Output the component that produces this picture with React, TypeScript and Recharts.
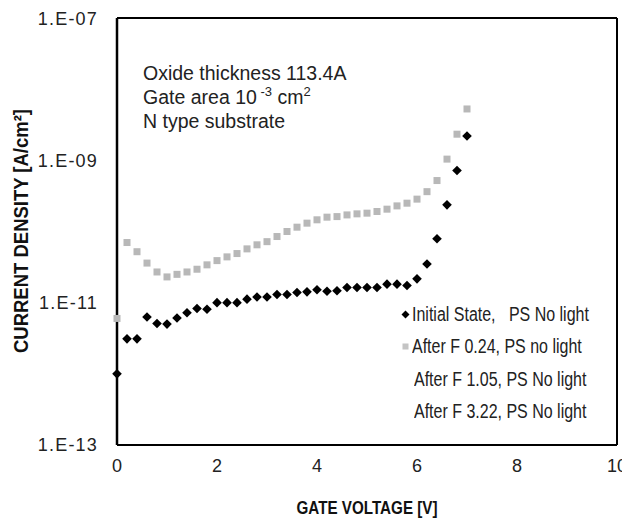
import React from 'react';
import { ScatterChart, Scatter, XAxis, YAxis, CartesianGrid, ReferenceLine } from 'recharts';

// gate voltage steps (V)
const voltage = [
  0, 0.2, 0.4, 0.6, 0.8, 1.0, 1.2, 1.4, 1.6, 1.8, 2.0, 2.2, 2.4, 2.6, 2.8, 3.0, 3.2, 3.4,
  3.6, 3.8, 4.0, 4.2, 4.4, 4.6, 4.8, 5.0, 5.2, 5.4, 5.6, 5.8, 6.0, 6.2, 6.4, 6.6, 6.8, 7.0,
];

// current density (A/cm2)
const initialState = [
  1.0e-12, 3.1e-12, 3.1e-12, 6.3e-12, 5.1e-12, 5.0e-12, 6.1e-12, 7.2e-12, 8.3e-12, 8.1e-12,
  1.0e-11, 1.0e-11, 1.0e-11, 1.12e-11, 1.2e-11, 1.2e-11, 1.3e-11, 1.3e-11, 1.39e-11, 1.42e-11,
  1.52e-11, 1.45e-11, 1.47e-11, 1.63e-11, 1.63e-11, 1.63e-11, 1.63e-11, 1.82e-11, 1.82e-11, 1.74e-11,
  2.16e-11, 3.5e-11, 7.9e-11, 2.37e-10, 7.2e-10, 2.2e-9,
];

const afterF024 = [
  6.0e-12, 7.0e-11, 5.2e-11, 3.6e-11, 2.7e-11, 2.3e-11, 2.5e-11, 2.7e-11, 2.95e-11, 3.4e-11,
  3.9e-11, 4.4e-11, 4.9e-11, 5.7e-11, 6.5e-11, 7.2e-11, 8.5e-11, 1.0e-10, 1.15e-10, 1.31e-10,
  1.46e-10, 1.59e-10, 1.62e-10, 1.71e-10, 1.77e-10, 1.81e-10, 1.91e-10, 2.06e-10, 2.29e-10, 2.5e-10,
  2.85e-10, 3.63e-10, 5.2e-10, 1.04e-9, 2.33e-9, 5.27e-9,
];

const seriesNames = [
  'Initial State,   PS No light',
  'After F 0.24, PS no light',
  'After F 1.05, PS No light',
  'After F 3.22, PS No light',
];

const xTicks = [0, 2, 4, 6, 8, 10];
const yTicks = [1e-13, 1e-11, 1e-9, 1e-7];
const xMin = 0;
const xMax = 10;
const yMin = 1e-13;
const yMax = 1e-7;

const SANS = '"Liberation Sans", Arial, Helvetica, sans-serif';

const initialData = voltage.map((v, i) => ({ x: v, y: initialState[i] }));
const afterData = voltage.map((v, i) => ({ x: v, y: afterF024[i] }));

const formatExp = (v: number) => {
  const e = Math.round(Math.log10(v));
  return `1.E-${String(-e).padStart(2, '0')}`;
};

const Diamond = (props: any) => {
  const { cx, cy } = props;
  const r = 4.8;
  return <path d={`M${cx},${cy - r}L${cx + r},${cy}L${cx},${cy + r}L${cx - r},${cy}Z`} fill="#000" />;
};

const GraySquare = (props: any) => {
  const { cx, cy } = props;
  return <rect x={cx - 3.5} y={cy - 3.5} width={7} height={7} fill="#b8b8b8" />;
};

const LegendBox = () => (
  <div
    style={{
      position: 'absolute',
      left: 392,
      top: 290,
      fontFamily: SANS,
      fontSize: 19.5,
      lineHeight: '32.3px',
      color: '#222',
    }}
  >
    {seriesNames.map((name, i) => (
      <div key={name} style={{ display: 'flex', alignItems: 'center', whiteSpace: 'pre' }}>
        <svg width={11} height={11} style={{ marginRight: i < 2 ? 1 : 3 }}>
          {i === 0 && <path d="M5.5,1.5L9.5,5.5L5.5,9.5L1.5,5.5Z" fill="#000" />}
          {i === 1 && <rect x={2.5} y={2.5} width={6} height={6} fill="#c4c4c4" />}
        </svg>
        <span style={{ display: 'inline-block', transform: 'scaleX(0.82)', transformOrigin: 'left center' }}>
          {name}
        </span>
      </div>
    ))}
  </div>
);

const frame = { stroke: '#000', strokeWidth: 2 };

export default function App() {
  return (
    <div style={{ position: 'relative', width: 622, height: 517 }}>
      <ScatterChart width={622} height={517} margin={{ top: 10, right: 13, bottom: 0, left: 0 }}>
        <CartesianGrid
          horizontalValues={[yMax]}
          verticalValues={[xMax]}
          stroke="#000"
          strokeWidth={2}
          strokeDasharray=""
        />
        <XAxis
          type="number"
          dataKey="x"
          domain={[xMin, xMax]}
          ticks={xTicks}
          height={80}
          axisLine={frame}
          tickLine={false}
          tickMargin={8}
          tick={{ fill: '#222', fontSize: 18, fontFamily: SANS }}
        />
        <YAxis
          type="number"
          dataKey="y"
          scale="log"
          domain={[yMin, yMax]}
          allowDataOverflow
          ticks={yTicks}
          width={109}
          axisLine={{ stroke: '#000', strokeWidth: 2.5 }}
          tickLine={false}
          tickMargin={13}
          tickFormatter={formatExp}
          tick={{ fill: '#222', fontSize: 18, fontFamily: SANS, letterSpacing: 1.2 }}
        />
        <ReferenceLine y={yMax} stroke="#000" strokeWidth={2} ifOverflow="visible" />
        <ReferenceLine x={xMax} stroke="#000" strokeWidth={2} ifOverflow="visible" />
        <Scatter name={seriesNames[1]} data={afterData} shape={<GraySquare />} isAnimationActive={false} />
        <Scatter name={seriesNames[0]} data={initialData} shape={<Diamond />} isAnimationActive={false} />
      </ScatterChart>
      <LegendBox />
      {/* axis titles, squeezed to look like the condensed face of the original */}
      <div
        style={{
          position: 'absolute',
          left: 109,
          top: 490,
          width: 500,
          textAlign: 'center',
          fontFamily: SANS,
          fontWeight: 'bold',
          fontSize: 19,
          lineHeight: '19px',
          color: '#111',
          whiteSpace: 'nowrap',
          transform: 'scaleX(0.8)',
        }}
      >
        GATE VOLTAGE [V]
      </div>
      <div
        style={{
          position: 'absolute',
          left: 12,
          top: 223,
          fontFamily: SANS,
          fontWeight: 'bold',
          fontSize: 21,
          lineHeight: '21px',
          color: '#111',
          whiteSpace: 'nowrap',
          transform: 'translate(-50%, -50%) rotate(-90deg) scaleX(0.88)',
        }}
      >
        CURRENT DENSITY [A/cm²]
      </div>
      <div
        style={{
          position: 'absolute',
          left: 135,
          top: 53,
          fontFamily: SANS,
          fontSize: 19.5,
          lineHeight: '24px',
          color: '#222',
          whiteSpace: 'nowrap',
        }}
      >
        <div>Oxide thickness 113.4A</div>
        <div>
          Gate area 10<sup style={{ fontSize: 13, verticalAlign: 'top', lineHeight: '14px' }}> -3</sup> cm
          <sup style={{ fontSize: 13, verticalAlign: 'top', lineHeight: '14px' }}>2</sup>
        </div>
        <div>N type substrate</div>
      </div>
    </div>
  );
}
